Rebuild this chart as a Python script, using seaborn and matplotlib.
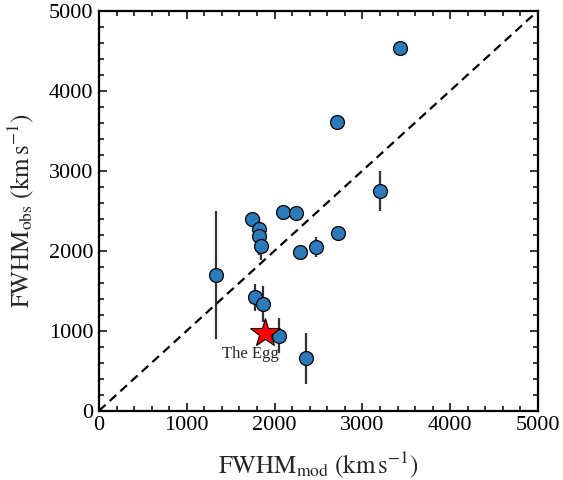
import numpy as np
import pandas as pd
import seaborn as sns
import matplotlib.pyplot as plt
from matplotlib.ticker import MultipleLocator

# FWHM modelled vs observed (km/s)
fwhm_mod = [3425, 2713, 3196, 2093, 2245, 2720, 2290, 2473, 1743, 1826,
            1819, 1845, 1332, 1773, 1865, 2055, 2360]
fwhm_obs = [4540, 3604, 2750, 2479, 2466, 2221, 1979, 2050, 2396, 2271,
            2187, 2054, 1700, 1416, 1333, 937, 654]
obs_err = [0, 0, 250, 0, 0, 0, 0, 125, 0, 0,
           240, 170, 800, 170, 220, 220, 320]

egg_mod = 1891
egg_obs = 966
egg_label = "The Egg"

ticks = [0, 1000, 2000, 3000, 4000, 5000]

df = pd.DataFrame({"mod": fwhm_mod, "obs": fwhm_obs, "err": obs_err})

sns.set_theme(style="ticks")
plt.rcParams['font.family'] = ['Liberation Serif', 'DejaVu Serif']
plt.rcParams['mathtext.fontset'] = 'stix'

fig = plt.figure(figsize=(5.63, 4.80), dpi=100)
ax = fig.add_axes([99 / 563, 1 - 410.7 / 480, 439 / 563, 400 / 480])

ax.plot([0, 5000], [0, 5000], ls=(0, (4, 2.5)), color='black', lw=1.6, zorder=1)

errs = df[df["err"] > 0]
ax.errorbar(errs["mod"], errs["obs"], yerr=errs["err"], fmt='none',
            ecolor='#333333', elinewidth=1.6, capsize=0, zorder=2)

sns.scatterplot(data=df, x="mod", y="obs", ax=ax, s=100, color='#2b7bba',
                edgecolor='black', linewidth=0.9, zorder=3, legend=False)

ax.plot(egg_mod, egg_obs, marker='*', ms=22, color='red',
        markeredgecolor='black', markeredgewidth=0.8, zorder=4)
ax.text(egg_mod - 170, egg_obs - 260, egg_label, fontsize=12,
        ha='center', va='center')

ax.set_xlim(0, 5000)
ax.set_ylim(0, 5000)
ax.set_xticks(ticks)
ax.set_yticks(ticks)
ax.xaxis.set_minor_locator(MultipleLocator(200))
ax.yaxis.set_minor_locator(MultipleLocator(200))
ax.tick_params(which='both', direction='in', top=True, right=True,
               labelsize=16, width=1.1, colors='black')
ax.tick_params(which='major', length=6, pad=4)
ax.tick_params(which='minor', length=3.5)
for s in ax.spines.values():
    s.set_linewidth(1.6)
    s.set_color('black')

ax.set_xlabel(r'$\mathrm{FWHM_{mod}\ (km\,s^{-1})}$', fontsize=18, labelpad=10)
ax.set_ylabel(r'$\mathrm{FWHM_{obs}\ (km\,s^{-1})}$', fontsize=18, labelpad=9)

fig.savefig('out.png', dpi=100)
